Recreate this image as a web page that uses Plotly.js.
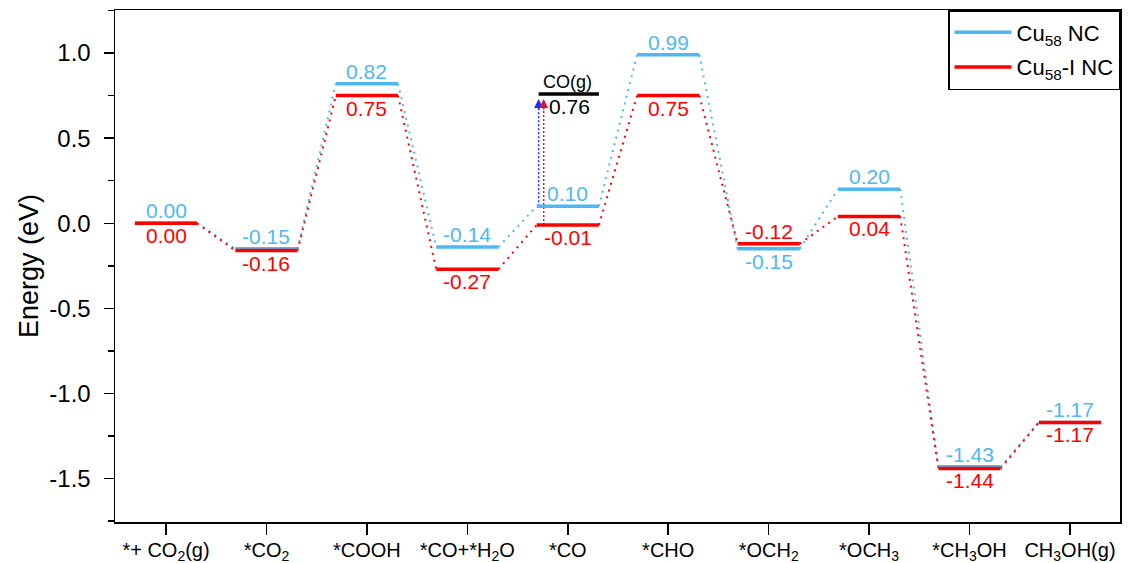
<!DOCTYPE html>
<html><head><meta charset="utf-8">
<script src="https://cdn.plot.ly/plotly-3.0.1.min.js"></script>
<style>html,body{margin:0;padding:0;background:#fff}</style>
</head><body><div id="chart" style="width:1134px;height:563px"></div>
<script>
// ---- data ----
const categories = ['*+ CO<sub>2</sub>(g)', '*CO<sub>2</sub>', '*COOH', '*CO+*H<sub>2</sub>O', '*CO', '*CHO', '*OCH<sub>2</sub>', '*OCH<sub>3</sub>', '*CH<sub>3</sub>OH', 'CH<sub>3</sub>OH(g)'];
const cu58 = [0.00, -0.15, 0.82, -0.14, 0.10, 0.99, -0.15, 0.20, -1.43, -1.17];
const cu58I = [0.00, -0.16, 0.75, -0.27, -0.01, 0.75, -0.12, 0.04, -1.44, -1.17];
const cu58LabelAbove = [true, true, true, true, true, true, false, true, true, true];
const cu58ILabelAbove = [false, false, false, false, false, false, true, false, false, false];
const coGasLabel = 'CO(g)';
const coGasEnergy = 0.76;
const coGasStep = 4;
const yTickVals = [-1.5, -1.0, -0.5, 0.0, 0.5, 1.0];
const yTickText = ['-1.5', '-1.0', '-0.5', '0.0', '0.5', '1.0'];

// ---- style ----
const BLUE = '#4fb8f2', RED = '#ff0000';
const ARROW_BLUE = '#1530ff', ARROW_RED = '#d4143c';
const HALF = 0.31;
const FONT = 'Liberation Sans, Arial, sans-serif';

function levels(vals) {
  const x = [], y = [];
  vals.forEach((v, i) => { x.push(i - HALF, i + HALF, null); y.push(v, v, null); });
  return {x, y};
}
function connectors(vals) {
  const x = [], y = [];
  for (let i = 0; i < vals.length - 1; i++) {
    x.push(i + HALF, i + 1 - HALF, null); y.push(vals[i], vals[i + 1], null);
  }
  return {x, y};
}
const cb = connectors(cu58), cr = connectors(cu58I);
const lb = levels(cu58), lr = levels(cu58I);
const dotted = '2px,5px';

const arrowBlueX = coGasStep - 0.29, arrowRedX = coGasStep - 0.24;
const tipY = 0.73;

const traces = [
  {x: cb.x, y: cb.y, mode: 'lines', line: {color: BLUE, width: 2, dash: dotted}, showlegend: false, hoverinfo: 'skip'},
  {x: cr.x, y: cr.y, mode: 'lines', line: {color: RED, width: 2, dash: dotted}, showlegend: false, hoverinfo: 'skip'},
  {x: [arrowBlueX, arrowBlueX], y: [cu58[coGasStep], tipY - 0.04], mode: 'lines', line: {color: ARROW_BLUE, width: 1.5, dash: '2px,2px'}, showlegend: false, hoverinfo: 'skip'},
  {x: [arrowRedX, arrowRedX], y: [cu58I[coGasStep], tipY - 0.04], mode: 'lines', line: {color: ARROW_RED, width: 1.5, dash: '2px,2px'}, showlegend: false, hoverinfo: 'skip'},
  {x: [coGasStep - HALF + 0.02, coGasStep + HALF], y: [coGasEnergy, coGasEnergy], mode: 'lines', line: {color: '#000', width: 3.5}, showlegend: false, hoverinfo: 'skip'},
  {x: lb.x, y: lb.y, mode: 'lines', line: {color: BLUE, width: 3.5}, name: 'Cu<sub>58</sub> NC', legendgroup: 'a'},
  {x: lr.x, y: lr.y, mode: 'lines', line: {color: RED, width: 3.5}, name: 'Cu<sub>58</sub>-I NC', legendgroup: 'b'}
];

const annotations = [];
function addLabels(vals, above, color) {
  vals.forEach((v, i) => {
    annotations.push({
      x: i, y: v, xref: 'x', yref: 'y', text: v.toFixed(2), showarrow: false,
      yanchor: above[i] ? 'bottom' : 'top', yshift: above[i] ? -1 : 1,
      font: {family: FONT, size: 21, color: color}
    });
  });
}
addLabels(cu58, cu58LabelAbove, BLUE);
addLabels(cu58I, cu58ILabelAbove, RED);
annotations.push({x: coGasStep, y: coGasEnergy, xref: 'x', yref: 'y', text: coGasLabel, showarrow: false,
  yanchor: 'bottom', yshift: 0, font: {family: FONT, size: 18, color: '#000'}});
annotations.push({x: coGasStep + 0.02, y: coGasEnergy, xref: 'x', yref: 'y', text: coGasEnergy.toFixed(2), showarrow: false,
  yanchor: 'top', yshift: 1, font: {family: FONT, size: 21, color: '#000'}});
[[arrowBlueX, ARROW_BLUE], [arrowRedX, ARROW_RED]].forEach(([ax, col]) => {
  annotations.push({x: ax, y: tipY, ax: ax, ay: tipY - 0.07, xref: 'x', yref: 'y', axref: 'x', ayref: 'y',
    text: '', showarrow: true, arrowhead: 2, arrowsize: 1.2, arrowwidth: 1.5, arrowcolor: col});
});

const layout = {
  width: 1134, height: 563,
  margin: {l: 115, r: 14, t: 10, b: 41},
  paper_bgcolor: '#fff', plot_bgcolor: '#fff',
  font: {family: FONT, color: '#000'},
  showlegend: true,
  legend: {x: 1, y: 1, xanchor: 'right', yanchor: 'top', bgcolor: '#fff', bordercolor: '#000', borderwidth: 1.5,
    font: {family: FONT, size: 22, color: '#000'}, itemwidth: 57, tracegroupgap: 3},
  xaxis: {range: [-0.508, 9.498], tickmode: 'array', tickvals: categories.map((c, i) => i), ticktext: categories,
    showgrid: false, zeroline: false, showline: true, mirror: true, linecolor: '#000', linewidth: 1.5,
    ticks: 'outside', ticklen: 11, tickwidth: 1.5, tickcolor: '#000', ticklabelstandoff: -2,
    tickfont: {family: FONT, size: 20, color: '#000'}},
  yaxis: {range: [-1.755, 1.253], tickmode: 'array', tickvals: yTickVals, ticktext: yTickText,
    showgrid: false, zeroline: false, showline: true, mirror: true, linecolor: '#000', linewidth: 1.5,
    ticks: 'outside', ticklen: 10, tickwidth: 1.5, tickcolor: '#000', ticklabelstandoff: 8,
    tickfont: {family: FONT, size: 24, color: '#000'},
    minor: {tickmode: 'linear', tick0: 0, dtick: 0.25, ticks: 'outside', ticklen: 6, tickwidth: 1.5, tickcolor: '#000', showgrid: false},
    title: {text: 'Energy (eV)', font: {family: FONT, size: 27, color: '#000'}, standoff: 3}},
  annotations: annotations
};
Plotly.newPlot('chart', traces, layout, {displayModeBar: false, staticPlot: true}).then(gd => {
  gd.querySelectorAll('.legend .legendlines path').forEach(p => p.setAttribute('d', 'M5,0h57'));
});
</script></body></html>
